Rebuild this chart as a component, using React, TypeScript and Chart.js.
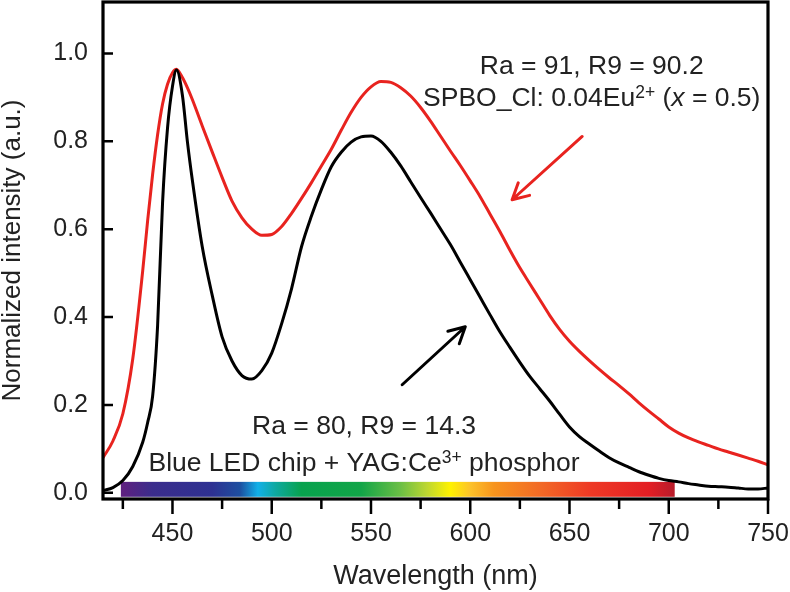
import { useEffect, useRef } from 'react';
import { Chart, registerables } from 'chart.js';

Chart.register(...registerables);

const FONT = '"Liberation Sans", Arial, Helvetica, sans-serif';

// Wavelength (nm)
const wavelengths = [
  415, 420, 425, 430, 435, 437.5, 440, 442.5, 445, 447.5, 450, 452, 455, 457.5, 460, 465, 470, 475,
  480, 485, 490, 495, 500, 505, 510, 515, 520, 525, 530, 535, 540, 545, 550, 555, 560, 565, 570,
  575, 580, 585, 590, 595, 600, 605, 610, 615, 620, 625, 630, 635, 640, 645, 650, 655, 660, 665,
  670, 675, 680, 685, 690, 695, 700, 705, 710, 715, 720, 725, 730, 735, 740, 745, 750,
];

// SPBO_Cl: 0.04Eu2+ (x = 0.5) based white LED (red curve)
const spboCl = [
  0.080, 0.118, 0.180, 0.305, 0.505, 0.620, 0.725, 0.815, 0.885, 0.930, 0.956, 0.964, 0.945, 0.922,
  0.895, 0.835, 0.776, 0.718, 0.664, 0.626, 0.600, 0.586, 0.588, 0.606, 0.636, 0.670, 0.706, 0.744,
  0.782, 0.825, 0.866, 0.900, 0.924, 0.936, 0.934, 0.922, 0.903, 0.877, 0.846, 0.812, 0.778, 0.745,
  0.710, 0.674, 0.634, 0.594, 0.552, 0.512, 0.476, 0.440, 0.404, 0.372, 0.345, 0.322, 0.301, 0.281,
  0.262, 0.244, 0.225, 0.205, 0.186, 0.168, 0.150, 0.136, 0.125, 0.116, 0.108, 0.100, 0.093, 0.086,
  0.079, 0.072, 0.064,
];

// Blue LED chip + YAG:Ce3+ phosphor (black curve)
const yagCe = [
  0.005, 0.012, 0.028, 0.060, 0.115, 0.160, 0.220, 0.380, 0.660, 0.830, 0.925, 0.962, 0.905, 0.800,
  0.712, 0.560, 0.450, 0.355, 0.300, 0.267, 0.259, 0.278, 0.318, 0.385, 0.465, 0.560, 0.630, 0.690,
  0.742, 0.775, 0.798, 0.810, 0.812, 0.800, 0.775, 0.744, 0.708, 0.672, 0.637, 0.601, 0.565, 0.525,
  0.485, 0.445, 0.405, 0.366, 0.331, 0.297, 0.265, 0.237, 0.209, 0.179, 0.150, 0.128, 0.111, 0.095,
  0.080, 0.068, 0.058, 0.048, 0.040, 0.033, 0.028, 0.025, 0.021, 0.018, 0.015, 0.014, 0.013, 0.011,
  0.009, 0.009, 0.011,
];

const xTicks = [450, 500, 550, 600, 650, 700, 750];
const xMinorTicks = [425, 475, 525, 575, 625, 675, 725];
const yTicks = [0, 0.2, 0.4, 0.6, 0.8, 1.0];

// visible-spectrum bar: wavelength span and colour stops
const spectrumRange = [424, 703];
const spectrumStopsNm = [425, 440, 470, 484, 493, 502, 515, 545, 565, 578, 590, 600, 612, 635, 660, 690, 703];
const spectrumColors = [
  '#5e2180', '#3b2d8c', '#2e3192', '#1d4fa0', '#12b0e8', '#0fa9a0', '#08a24e', '#12a548', '#6cbf45',
  '#bcd631', '#fff200', '#fcc22a', '#f7941d', '#f26a26', '#ee3a25', '#e31e24', '#b71c2b',
];

type Run = { t: string; italic?: boolean; sup?: boolean };

function drawRuns(ctx: CanvasRenderingContext2D, runs: Run[], cx: number, cy: number, size: number) {
  const fontFor = (r: Run) => `${r.italic ? 'italic ' : ''}${r.sup ? size * 0.66 : size}px ${FONT}`;
  let total = 0;
  const widths = runs.map((r) => {
    ctx.font = fontFor(r);
    const w = ctx.measureText(r.t).width;
    total += w;
    return w;
  });
  let x = cx - total / 2;
  const base = cy + size * 0.358;
  ctx.textBaseline = 'alphabetic';
  ctx.textAlign = 'left';
  runs.forEach((r, i) => {
    ctx.font = fontFor(r);
    ctx.fillText(r.t, x, r.sup ? base - size * 0.3 : base);
    x += widths[i];
  });
}

function drawArrow(ctx: CanvasRenderingContext2D, x0: number, y0: number, x1: number, y1: number, color: string) {
  const ang = Math.atan2(y1 - y0, x1 - x0);
  const head = 18;
  const spread = (28 * Math.PI) / 180;
  ctx.save();
  ctx.strokeStyle = color;
  ctx.lineWidth = 3;
  ctx.lineCap = 'round';
  ctx.lineJoin = 'round';
  ctx.beginPath();
  ctx.moveTo(x0, y0);
  ctx.lineTo(x1, y1);
  ctx.moveTo(x1 - head * Math.cos(ang - spread), y1 - head * Math.sin(ang - spread));
  ctx.lineTo(x1, y1);
  ctx.lineTo(x1 - head * Math.cos(ang + spread), y1 - head * Math.sin(ang + spread));
  ctx.stroke();
  ctx.restore();
}

export default function App() {
  const ref = useRef<HTMLCanvasElement>(null);

  useEffect(() => {
    const canvas = ref.current!;
    const overlay = {
      id: 'overlay',
      beforeDatasetsDraw(chart: any) {
        const { ctx, scales } = chart;
        const xs = scales.x;
        const ys = scales.y;
        const x0 = xs.getPixelForValue(spectrumRange[0]);
        const x1 = xs.getPixelForValue(spectrumRange[1]);
        const yTop = ys.getPixelForValue(0.025);
        const yBot = ys.getPixelForValue(-0.009);
        const g = ctx.createLinearGradient(x0, 0, x1, 0);
        spectrumStopsNm.forEach((nm, i) => {
          g.addColorStop((nm - spectrumRange[0]) / (spectrumRange[1] - spectrumRange[0]), spectrumColors[i]);
        });
        ctx.save();
        ctx.fillStyle = g;
        ctx.fillRect(x0, yTop, x1 - x0, yBot - yTop);
        ctx.restore();
      },
      afterDatasetsDraw(chart: any) {
        const { ctx, scales } = chart;
        const xs = scales.x;
        const ys = scales.y;
        const px = (v: number) => xs.getPixelForValue(v);
        const py = (v: number) => ys.getPixelForValue(v);
        ctx.save();
        ctx.fillStyle = '#222';
        drawRuns(ctx, [{ t: 'Ra = 91, R9 = 90.2' }], px(661.2), py(0.975), 26.5);
        drawRuns(
          ctx,
          [
            { t: 'SPBO_Cl: 0.04Eu' },
            { t: '2+', sup: true },
            { t: ' (' },
            { t: 'x', italic: true },
            { t: ' = 0.5)' },
          ],
          px(661.2),
          py(0.901),
          26.5,
        );
        drawRuns(ctx, [{ t: 'Ra = 80, R9 = 14.3' }], px(546.5), py(0.155), 26.5);
        drawRuns(
          ctx,
          [{ t: 'Blue LED chip + YAG:Ce' }, { t: '3+', sup: true }, { t: ' phosphor' }],
          px(546.5),
          py(0.072),
          26.5,
        );
        ctx.restore();
        drawArrow(ctx, px(656.4), py(0.811), px(621.1), py(0.667), '#e8231f');
        drawArrow(ctx, px(565.7), py(0.246), px(597.5), py(0.378), '#000');
      },
      afterDraw(chart: any) {
        const { ctx, chartArea, scales } = chart;
        const { left, right, top, bottom } = chartArea;
        ctx.save();
        ctx.strokeStyle = '#000';
        ctx.lineWidth = 2.5;
        ctx.beginPath();
        yTicks.forEach((v) => {
          const y = scales.y.getPixelForValue(v);
          ctx.moveTo(left, y);
          ctx.lineTo(left + 10, y);
        });
        xTicks.forEach((v) => {
          const x = scales.x.getPixelForValue(v);
          ctx.moveTo(x, bottom);
          ctx.lineTo(x, bottom + 15);
        });
        xMinorTicks.forEach((v) => {
          const x = scales.x.getPixelForValue(v);
          ctx.moveTo(x, bottom);
          ctx.lineTo(x, bottom + 10);
        });
        ctx.stroke();
        ctx.lineWidth = 3.2;
        ctx.strokeRect(left, top, right - left, bottom - top);
        ctx.restore();
      },
    };

    const chart = new Chart(canvas, {
      type: 'line',
      data: {
        labels: wavelengths,
        datasets: [
          {
            label: 'Blue LED chip + YAG:Ce3+ phosphor',
            data: wavelengths.map((w, i) => ({ x: w, y: yagCe[i] })),
            borderColor: '#000',
            borderWidth: 3,
            pointRadius: 0,
            cubicInterpolationMode: 'monotone',
          },
          {
            label: 'SPBO_Cl: 0.04Eu2+ (x = 0.5)',
            data: wavelengths.map((w, i) => ({ x: w, y: spboCl[i] })),
            borderColor: '#e8231f',
            borderWidth: 3,
            pointRadius: 0,
            cubicInterpolationMode: 'monotone',
          },
        ],
      },
      options: {
        responsive: false,
        animation: false,
        devicePixelRatio: 1,
        layout: { autoPadding: false, padding: { left: 0, right: 22, top: 2, bottom: 0 } },
        plugins: { legend: { display: false }, tooltip: { enabled: false } },
        scales: {
          x: {
            type: 'linear',
            min: 415,
            max: 750,
            afterBuildTicks: (s: any) => {
              s.ticks = xTicks.map((v) => ({ value: v }));
            },
            afterFit: (s: any) => {
              s.height = 93;
              s.paddingLeft = 0;
              s.paddingRight = 0;
              s.paddingTop = 0;
              s.paddingBottom = 0;
            },
            grid: { display: false, drawTicks: false },
            border: { display: false },
            ticks: {
              color: '#222',
              font: { family: FONT, size: 25 },
              padding: 20,
              maxRotation: 0,
              autoSkip: false,
            },
            title: {
              display: true,
              text: 'Wavelength (nm)',
              color: '#222',
              font: { family: FONT, size: 27, lineHeight: 1.11 },
              padding: 0,
            },
          },
          y: {
            type: 'linear',
            min: -0.014,
            max: 1.117,
            afterBuildTicks: (s: any) => {
              s.ticks = yTicks.map((v) => ({ value: v }));
            },
            afterFit: (s: any) => {
              s.width = 103;
              s.paddingLeft = 0;
              s.paddingRight = 0;
              s.paddingTop = 0;
              s.paddingBottom = 0;
            },
            grid: { display: false, drawTicks: false },
            border: { display: false },
            ticks: {
              color: '#222',
              font: { family: FONT, size: 25 },
              padding: 15,
              callback: (v: any) => Number(v).toFixed(1),
            },
            title: {
              display: true,
              text: 'Normalized intensity (a.u.)',
              color: '#222',
              font: { family: FONT, size: 26, lineHeight: 0.96 },
              padding: 0,
            },
          },
        },
      },
      plugins: [overlay],
    } as any);

    return () => chart.destroy();
  }, []);

  return (
    <div style={{ position: 'absolute', left: 0, top: 0, width: 790, height: 592, background: '#fff' }}>
      <canvas ref={ref} width={790} height={592} style={{ display: 'block', width: 790, height: 592 }} />
    </div>
  );
}
